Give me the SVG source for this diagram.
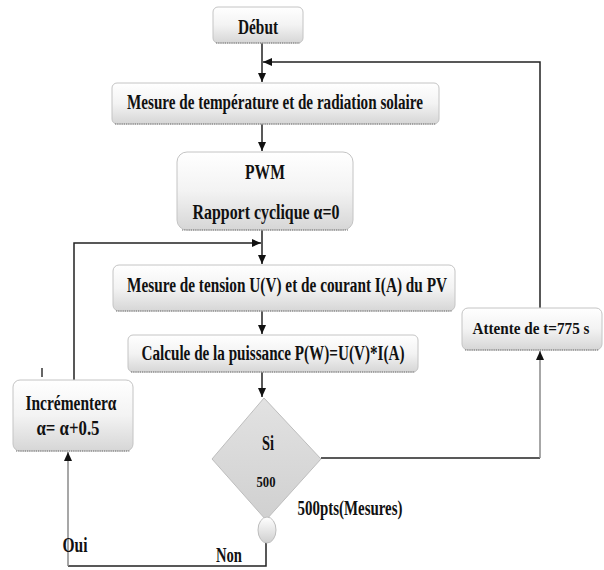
<svg xmlns="http://www.w3.org/2000/svg" width="604" height="570" viewBox="0 0 604 570">
<defs>
<linearGradient id="gBox" x1="0" y1="0" x2="0" y2="1">
<stop offset="0" stop-color="#ffffff"/>
<stop offset="0.5" stop-color="#f3f3f3"/>
<stop offset="1" stop-color="#d6d6d6"/>
</linearGradient>
<linearGradient id="gDia" x1="0" y1="0" x2="0" y2="1">
<stop offset="0" stop-color="#e2e2e2"/>
<stop offset="1" stop-color="#d0d0d0"/>
</linearGradient>
<linearGradient id="gEl" x1="0" y1="0" x2="0" y2="1">
<stop offset="0" stop-color="#ffffff"/>
<stop offset="1" stop-color="#cfcfcf"/>
</linearGradient>
<marker id="arr" markerUnits="userSpaceOnUse" markerWidth="10" markerHeight="10" viewBox="0 0 10 10" refX="9" refY="5" orient="auto">
<path d="M0,1 L9,5 L0,9 Z" fill="#111"/>
</marker>
<style>
.box{fill:url(#gBox);stroke:#c4c4c4;stroke-width:1}
.shadow{stroke:#6d6d6d;stroke-width:1.2;stroke-dasharray:1.2 1;fill:none}
.t{font-family:"Liberation Serif","Times New Roman",serif;font-weight:bold;font-size:20px;fill:#111;text-anchor:middle}
.c{fill:none;stroke:#222;stroke-width:1.5}
.cg{fill:none;stroke:#8a8a8a;stroke-width:1.5}
</style>
</defs>

<g id="connectors">
<path class="c" d="M262 43 V82" marker-end="url(#arr)"/>
<path class="c" d="M262 124 V151" marker-end="url(#arr)"/>
<path class="c" d="M262 230 V264" marker-end="url(#arr)"/>
<path class="c" d="M262 311 V334" marker-end="url(#arr)"/>
<path class="c" d="M262 372 V397" marker-end="url(#arr)"/>
<path class="c" d="M321 458 H540"/>
<path class="cg" d="M540 458 V351" marker-end="url(#arr)"/>
<path class="c" d="M540 308 V62 H263" marker-end="url(#arr)"/>
<path class="c" d="M266 543 V566 H68"/>
<path class="cg" d="M68 566 V452" marker-end="url(#arr)"/>
<path class="c" d="M74 380 V243 H261" marker-end="url(#arr)"/>
<line x1="42" y1="368" x2="42" y2="377" stroke="#333" stroke-width="1.5"/>
</g>

<g id="debut">
<rect class="box" x="213" y="7" width="90" height="36" rx="5"/>
<path class="shadow" d="M216 43 H300"/>
<text class="t" x="258" y="34" textLength="40" lengthAdjust="spacingAndGlyphs">Début</text>
</g>

<g id="mesure-temp">
<rect class="box" x="112" y="83" width="327" height="41" rx="5"/>
<path class="shadow" d="M115 124 H436"/>
<text class="t" x="275" y="109" textLength="296" lengthAdjust="spacingAndGlyphs">Mesure de température et de radiation solaire</text>
</g>

<g id="pwm">
<rect class="box" x="177" y="152" width="176" height="78" rx="10"/>
<path class="shadow" d="M182 230 H348"/>
<text class="t" x="265" y="179" textLength="40" lengthAdjust="spacingAndGlyphs">PWM</text>
<text class="t" x="266" y="219" textLength="147" lengthAdjust="spacingAndGlyphs">Rapport cyclique α=0</text>
</g>

<g id="mesure-tension">
<rect class="box" x="113" y="265" width="342" height="46" rx="6"/>
<path class="shadow" d="M116 311 H452"/>
<text class="t" x="287" y="292" textLength="320" lengthAdjust="spacingAndGlyphs">Mesure de tension U(V) et de courant I(A) du PV</text>
</g>

<g id="calcule">
<rect class="box" x="128" y="335" width="290" height="37" rx="5"/>
<path class="shadow" d="M131 372 H415"/>
<text class="t" x="273" y="360" textLength="263" lengthAdjust="spacingAndGlyphs">Calcule de la puissance P(W)=U(V)*I(A)</text>
</g>

<g id="attente">
<rect class="box" x="462" y="308" width="140" height="42" rx="6"/>
<path class="shadow" d="M465 350 H599"/>
<text class="t" x="531" y="334" style="font-size:17px" textLength="117" lengthAdjust="spacingAndGlyphs">Attente de t=775 s</text>
</g>

<g id="incrementer">
<rect class="box" x="13" y="380" width="120" height="71" rx="7"/>
<path class="shadow" d="M16 451 H130"/>
<text class="t" x="71" y="410" textLength="91" lengthAdjust="spacingAndGlyphs">Incrémenterα</text>
<text class="t" x="68" y="435" textLength="63" lengthAdjust="spacingAndGlyphs">α= α+0.5</text>
</g>

<g id="decision">
<polygon points="264,398 321,459 266,520 212,459" fill="url(#gDia)" stroke="#bdbdbd" stroke-width="1"/>
<text class="t" x="268" y="450" textLength="12" lengthAdjust="spacingAndGlyphs">Si</text>
<text class="t" x="266" y="487" style="font-size:14px" textLength="19" lengthAdjust="spacingAndGlyphs">500</text>
<ellipse cx="267" cy="530" rx="9" ry="13" fill="url(#gEl)" stroke="#bdbdbd" stroke-width="1"/>
</g>

<g id="labels">
<text class="t" x="350" y="515" textLength="105" lengthAdjust="spacingAndGlyphs">500pts(Mesures)</text>
<text class="t" x="75" y="552" textLength="25" lengthAdjust="spacingAndGlyphs">Oui</text>
<text class="t" x="229" y="562" textLength="26" lengthAdjust="spacingAndGlyphs">Non</text>
</g>
</svg>
